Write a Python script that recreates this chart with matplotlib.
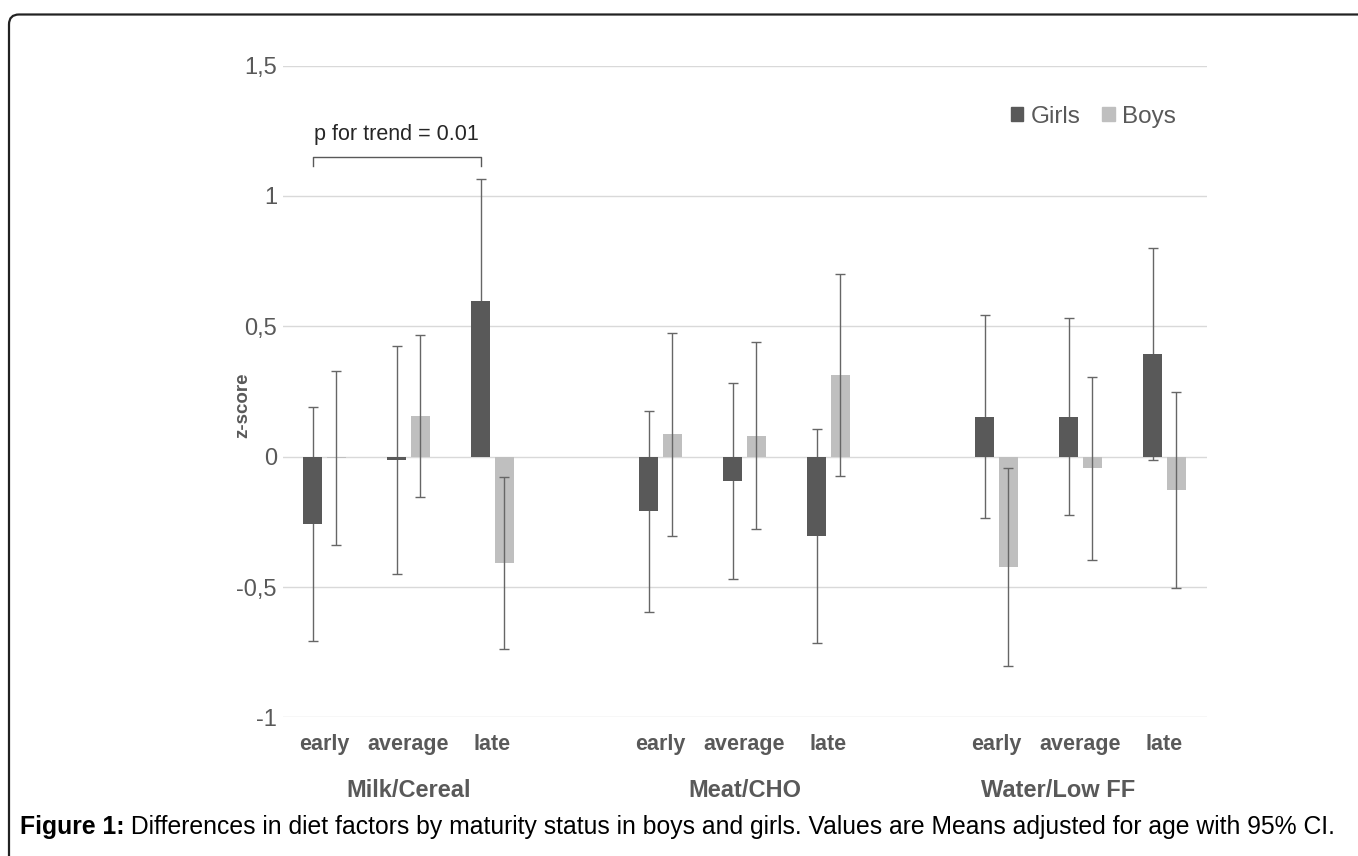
"""
Diet factors by maturity status (girls vs boys), z-scores with 95% CI
"""

import matplotlib.pyplot as plt
import matplotlib.patches as patches
from matplotlib.transforms import IdentityTransform, blended_transform_factory
from matplotlib.ticker import FuncFormatter

plt.rcParams['font.family'] = ['Liberation Sans', 'DejaVu Sans']

# dati
groups = ['Milk/Cereal', 'Meat/CHO', 'Water/Low FF']
stages = ['early', 'average', 'late']
girls_mean = [-0.258, -0.013, 0.596, -0.210, -0.093, -0.304, 0.153, 0.153, 0.393]
girls_ci = [0.450, 0.436, 0.470, 0.386, 0.375, 0.410, 0.390, 0.377, 0.407]
boys_mean = [-0.006, 0.156, -0.408, 0.086, 0.081, 0.313, -0.424, -0.045, -0.129]
boys_ci = [0.333, 0.309, 0.331, 0.390, 0.359, 0.387, 0.380, 0.351, 0.376]
yticks = [-1, -0.5, 0, 0.5, 1, 1.5]
trend_label = 'p for trend = 0.01'

GIRLS = '#595959'
BOYS = '#bfbfbf'
ERR = '#666666'
TXT = '#595959'

W, H = 1358, 856
fig = plt.figure(figsize=(W / 100, H / 100), dpi=100)
fig.patch.set_facecolor('white')
ax = fig.add_axes([282.5 / W, 1 - 717.4 / H, 924 / W, 651.8 / H])

# posizioni: 4 slot per gruppo (ultimo vuoto)
xs = [g * 4 + s for g in range(len(groups)) for s in range(len(stages))]
off, bw = 0.14, 0.23
xg = [x - off for x in xs]
xb = [x + off for x in xs]

ax.bar(xb, boys_mean, width=bw, color=BOYS, zorder=2)
ax.errorbar(xb, boys_mean, yerr=boys_ci, fmt='none', ecolor=ERR,
            elinewidth=1.0, capsize=3.5, capthick=1.0, zorder=3)
ax.errorbar(xg, girls_mean, yerr=girls_ci, fmt='none', ecolor=ERR,
            elinewidth=1.0, capsize=3.5, capthick=1.0, zorder=3)
ax.bar(xg, girls_mean, width=bw, color=GIRLS, zorder=4)

ax.set_xlim(-0.5, 10.5)
ax.set_ylim(-1, 1.5)
ax.set_yticks(yticks)
ax.yaxis.set_major_formatter(FuncFormatter(lambda v, p: f'{v:g}'.replace('.', ',')))
ax.grid(axis='y', color='#d9d9d9', linewidth=1.0, zorder=0)
ax.set_axisbelow(True)
for s in ax.spines.values():
    s.set_visible(False)
ax.tick_params(axis='y', length=0, pad=4, labelsize=17, labelcolor=TXT)
ax.set_xticks(xs)
ax.set_xticklabels(stages * len(groups), fontsize=15.5, fontweight='bold', color=TXT)
ax.tick_params(axis='x', length=0, pad=12)

# etichette dei gruppi
shift = [0.0, 0.0, -0.27]
tr = blended_transform_factory(ax.transData, ax.transAxes)
for g, name in enumerate(groups):
    ax.text(g * 4 + 1 + shift[g], -0.1115, name, transform=tr, ha='center', va='center',
            fontsize=17, fontweight='bold', color=TXT)

fig.text(243 / W, 1 - 405 / H, 'z-score', rotation=90, ha='center', va='center',
         fontsize=13.5, fontweight='bold', color=TXT)

# parentesi per il trend
x0, x1 = xg[0], xg[2]
yb, yt = 1.113, 1.151
ax.plot([x0, x0, x1, x1], [yb, yt, yt, yb], color=TXT, lw=1.0, zorder=5)
ax.text((x0 + x1) / 2, 1.235, trend_label, ha='center', va='center',
        fontsize=15.5, color='#262626')

# legenda
handles = [patches.Patch(color=GIRLS, label='Girls'), patches.Patch(color=BOYS, label='Boys')]
fig.legend(handles=handles, loc='center left', bbox_to_anchor=(999 / W, 1 - 117 / H),
           ncol=2, frameon=False, fontsize=17.5, handlelength=0.5, handleheight=0.5,
           handletextpad=0.3, columnspacing=0.9, borderpad=0, labelcolor=TXT)

# didascalia
cap = fig.text(20 / W, 1 - 827 / H, 'Figure 1:', fontsize=17.8, fontweight='bold',
               ha='left', va='center', color='black')
ax.annotate(' Differences in diet factors by maturity status in boys and girls. '
            'Values are Means adjusted for age with 95% CI.',
            xy=(1, 0.5), xycoords=cap, ha='left', va='center', fontsize=17.8,
            color='black', annotation_clip=False)

# cornice
frame = patches.FancyBboxPatch((9, -40), W + 40, H - 14.5 + 40,
                               boxstyle='round,pad=0,rounding_size=10',
                               transform=IdentityTransform(), fill=False,
                               edgecolor='#222222', linewidth=1.6)
fig.patches.append(frame)

fig.savefig('out.png', dpi=100, facecolor='white')
